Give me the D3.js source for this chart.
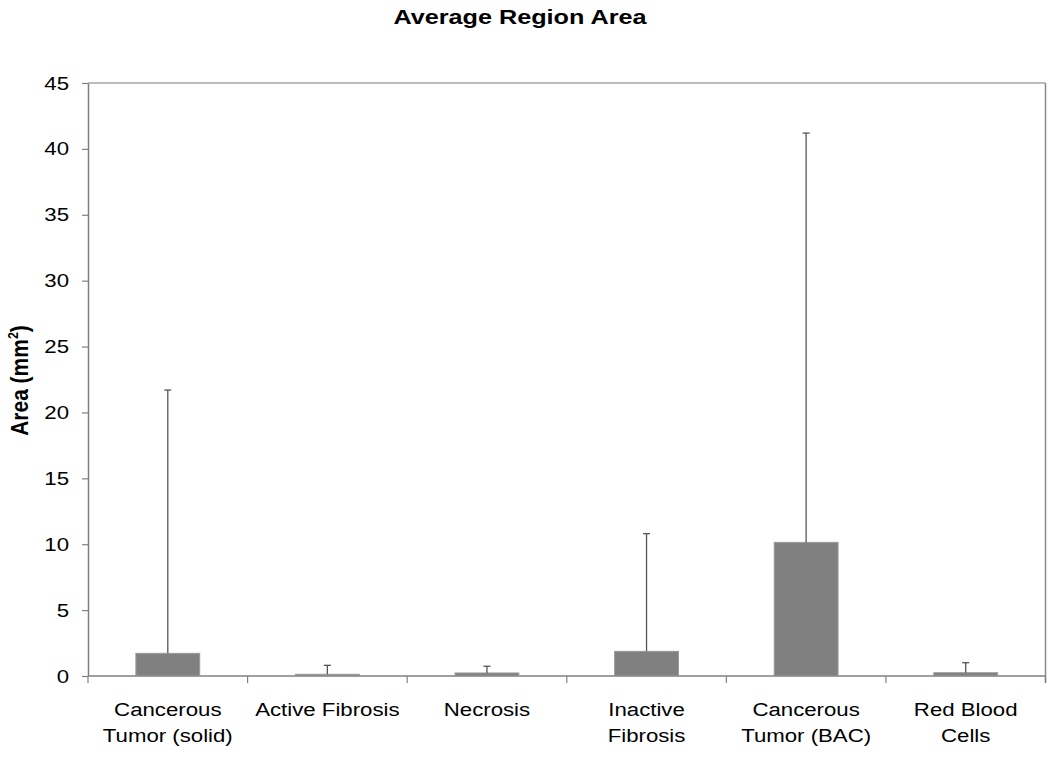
<!DOCTYPE html>
<html>
<head>
<meta charset="utf-8">
<script src="https://cdn.jsdelivr.net/npm/d3@7"></script>
<style>
  html, body { margin: 0; padding: 0; background: #fff; }
  svg { display: block; font-family: "Liberation Sans", Arial, sans-serif; }
</style>
</head>
<body>
<svg id="chart" width="1050" height="760"></svg>
<script>
const categories = [
  ["Cancerous", "Tumor (solid)"],
  ["Active Fibrosis"],
  ["Necrosis"],
  ["Inactive", "Fibrosis"],
  ["Cancerous", "Tumor (BAC)"],
  ["Red Blood", "Cells"]
];
const meanValues = [1.72, 0.13, 0.23, 1.87, 10.14, 0.25];
const errorTops  = [21.7, 0.81, 0.74, 10.8, 41.2, 1.01];
const yTicks = [0, 5, 10, 15, 20, 25, 30, 35, 40, 45];

(function () {
const svg = d3.select("#chart");
const pLeft = 88, pRight = 1045.5, pTop = 83, pBottom = 676;
const sx = 1.17;

const keys = categories.map((c, i) => i);
const x = d3.scaleBand().domain(keys).range([pLeft, pRight]).paddingInner(0.6).paddingOuter(0.3);
const y = d3.scaleLinear().domain([0, 45]).range([pBottom, pTop]);
const step = x.step(), bw = x.bandwidth();

// plot border (top & right)
svg.append("line").attr("x1", pLeft).attr("x2", pRight).attr("y1", pTop).attr("y2", pTop)
  .attr("stroke", "#a6a6a6").attr("stroke-width", 1.5);
svg.append("line").attr("x1", pRight).attr("x2", pRight).attr("y1", pTop).attr("y2", pBottom + 7)
  .attr("stroke", "#8c8c8c").attr("stroke-width", 1.5);

// y axis
const yAxis = svg.append("g").attr("transform", `translate(${pLeft},0)`)
  .call(d3.axisLeft(y).tickValues(yTicks).tickSize(6).tickPadding(13).tickSizeOuter(0));
yAxis.select(".domain").attr("stroke", "#808080").attr("stroke-width", 1.5);
yAxis.selectAll(".tick line").attr("stroke", "#808080").attr("stroke-width", 1.2);
yAxis.selectAll(".tick text")
  .attr("font-size", 19).attr("fill", "#000")
  .attr("font-family", "Liberation Sans, Arial, sans-serif")
  .attr("transform", function() {
    const xx = +d3.select(this).attr("x");
    return `translate(${xx},0) scale(${sx},1) translate(${-xx},0)`;
  });

// x axis line & ticks at boundaries
svg.append("line").attr("x1", pLeft).attr("x2", pRight).attr("y1", pBottom).attr("y2", pBottom)
  .attr("stroke", "#808080").attr("stroke-width", 1.5);
const bounds = keys.map(k => x(k) - (step - bw) / 2).concat([pRight]);
svg.selectAll(".xtick").data(bounds).enter().append("line")
  .attr("x1", d => d).attr("x2", d => d).attr("y1", pBottom).attr("y2", pBottom + 7)
  .attr("stroke", "#808080").attr("stroke-width", 1.2);

// bars
svg.selectAll(".bar").data(meanValues).enter().append("rect")
  .attr("x", (d, i) => x(i)).attr("width", bw)
  .attr("y", d => y(d)).attr("height", d => pBottom - y(d))
  .attr("fill", "#808080").attr("stroke", "#9a9a9a").attr("stroke-width", 1);

// error bars (plus only)
const eb = svg.selectAll(".err").data(errorTops).enter().append("g");
eb.append("line")
  .attr("x1", (d, i) => x(i) + bw / 2).attr("x2", (d, i) => x(i) + bw / 2)
  .attr("y1", (d, i) => y(meanValues[i])).attr("y2", d => y(d))
  .attr("stroke", "#555").attr("stroke-width", 1.3);
eb.append("line")
  .attr("x1", (d, i) => x(i) + bw / 2 - 3.5).attr("x2", (d, i) => x(i) + bw / 2 + 3.5)
  .attr("y1", d => y(d)).attr("y2", d => y(d))
  .attr("stroke", "#555").attr("stroke-width", 1.3);

// x labels
categories.forEach((lines, i) => {
  const cx = x(i) + bw / 2;
  const g = svg.append("g").attr("transform", `translate(${cx},0) scale(${sx},1)`);
  lines.forEach((t, j) => {
    g.append("text").attr("x", 0).attr("y", 716 + j * 26.5)
      .attr("text-anchor", "middle").attr("font-size", 19).attr("fill", "#000").text(t);
  });
});

// title
svg.append("g").attr("transform", `translate(520,0) scale(1.23,1)`)
  .append("text").attr("x", 0).attr("y", 24).attr("text-anchor", "middle")
  .attr("font-size", 20.5).attr("font-weight", "bold").attr("fill", "#000")
  .text("Average Region Area");

// y label
const yl = svg.append("text")
  .attr("transform", `translate(28,${(pTop + pBottom) / 2 + 1}) rotate(-90) scale(1,1.15)`)
  .attr("text-anchor", "middle").attr("font-size", 21).attr("font-weight", "bold").attr("fill", "#000");
yl.append("tspan").text("Area (mm");
yl.append("tspan").attr("font-size", 12.5).attr("dy", -9).text("2");
yl.append("tspan").attr("dy", 9).text(")");
})();
</script>
</body>
</html>
